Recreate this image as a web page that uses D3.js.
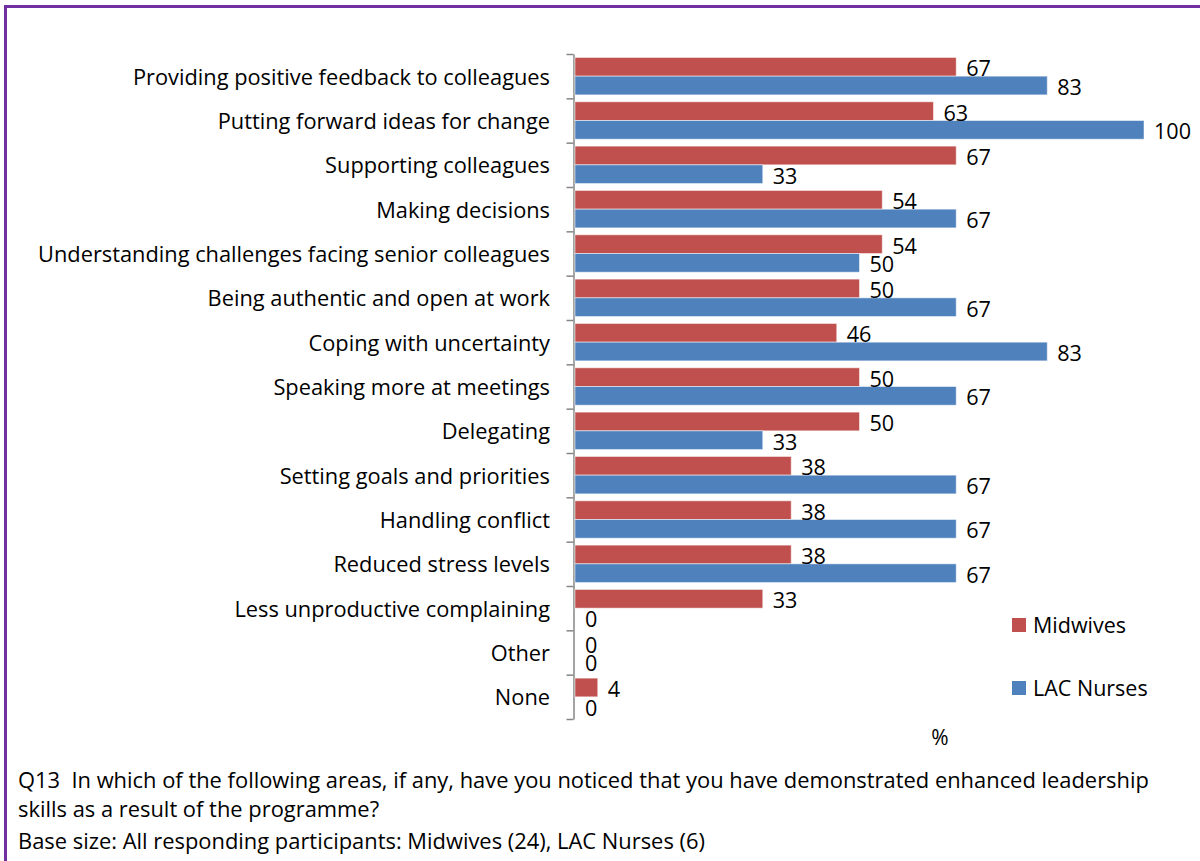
<!DOCTYPE html>
<html>
<head>
<meta charset="utf-8">
<script src="https://cdn.jsdelivr.net/npm/d3@7"></script>
<style>
  body { margin: 0; background: #fff; }
  svg { display: block; }
  text { font-family: "Open Sans", Lato, sans-serif; fill: #000; }
</style>
</head>
<body>
<svg id="chart" width="1200" height="861"></svg>
<script>
// Leadership areas, top to bottom
const categories = [
  "Providing positive feedback to colleagues",
  "Putting forward ideas for change",
  "Supporting colleagues",
  "Making decisions",
  "Understanding challenges facing senior colleagues",
  "Being authentic and open at work",
  "Coping with uncertainty",
  "Speaking more at meetings",
  "Delegating",
  "Setting goals and priorities",
  "Handling conflict",
  "Reduced stress levels",
  "Less unproductive complaining",
  "Other",
  "None"
];

// Percentages per group
const midwives  = [67, 63, 67, 54, 54, 50, 46, 50, 50, 38, 38, 38, 33, 0, 4];
const lacNurses = [83, 100, 33, 67, 50, 67, 83, 67, 33, 67, 67, 67, 0, 0, 0];

const seriesNames  = ["Midwives", "LAC Nurses"];
const seriesColors = ["#C0504D", "#4F81BD"];
const axisUnit = "%";

const captionLines = [
  "Q13  In which of the following areas, if any, have you noticed that you have demonstrated enhanced leadership",
  "skills as a result of the programme?",
  "Base size: All responding participants: Midwives (24), LAC Nurses (6)"
];

const svg = d3.select("#chart");

// Purple frame around the figure (runs off the right and bottom edges)
svg.append("rect")
  .attr("x", 5.5).attr("y", 6.5)
  .attr("width", 1230).attr("height", 900)
  .attr("fill", "none")
  .attr("stroke", "#7030A0")
  .attr("stroke-width", 3);

const plotTop = 54, plotBottom = 719, plotLeft = 575, plotRight = 1144;

const x = d3.scaleLinear().domain([0, 100]).range([plotLeft, plotRight]);
const y0 = d3.scaleBand().domain(categories).range([plotTop, plotBottom]).padding(0);
const y1 = d3.scaleBand().domain(seriesNames).range([0, y0.bandwidth()])
  .paddingInner(0).paddingOuter(0.185);

// Category axis with ticks on band boundaries
const tickScale = d3.scaleLinear().domain([0, categories.length]).range([plotTop, plotBottom]);
const axisG = svg.append("g")
  .attr("transform", `translate(${plotLeft - 1.5},0)`)
  .call(d3.axisLeft(tickScale)
    .tickValues(d3.range(categories.length + 1))
    .tickFormat("")
    .tickSize(7)
    .tickSizeOuter(0));
axisG.selectAll("path, line").attr("stroke", "#868686").attr("stroke-width", 1.5);

// Category labels
svg.append("g").selectAll("text")
  .data(categories)
  .join("text")
  .attr("x", 550)
  .attr("y", d => y0(d) + y0.bandwidth() / 2)
  .attr("text-anchor", "end")
  .attr("dominant-baseline", "central")
  .attr("font-size", 21.8)
  .text(d => d);

// Bars
const rows = categories.map((c, i) => ({
  cat: c,
  values: [
    { key: seriesNames[0], v: midwives[i], color: seriesColors[0] },
    { key: seriesNames[1], v: lacNurses[i], color: seriesColors[1] }
  ]
}));

const groups = svg.append("g").selectAll("g")
  .data(rows)
  .join("g")
  .attr("transform", d => `translate(0,${y0(d.cat)})`);

groups.selectAll("rect")
  .data(d => d.values)
  .join("rect")
  .attr("x", x(0))
  .attr("y", d => y1(d.key))
  .attr("width", d => x(d.v) - x(0))
  .attr("height", y1.bandwidth())
  .attr("fill", d => d.color)
  .attr("stroke", "#fff")
  .attr("stroke-opacity", 0.5)
  .attr("stroke-width", 1);

groups.selectAll("text")
  .data(d => d.values)
  .join("text")
  .attr("x", d => x(d.v) + 10)
  .attr("y", d => y1(d.key) + y1.bandwidth() / 2 + 1)
  .attr("dominant-baseline", "central")
  .attr("font-size", 21.6)
  .text(d => d.v);

// Legend
const legend = svg.append("g").selectAll("g")
  .data(seriesNames)
  .join("g")
  .attr("transform", (d, i) => `translate(1012,${618 + i * 63})`);
legend.append("rect")
  .attr("width", 14).attr("height", 14)
  .attr("fill", (d, i) => seriesColors[i]);
legend.append("text")
  .attr("x", 21).attr("y", 15)
  .attr("font-size", 21.5)
  .text(d => d);

// Unit label
svg.append("text")
  .attr("x", 940).attr("y", 745)
  .attr("text-anchor", "middle")
  .attr("font-size", 21)
  .text(axisUnit);

// Question and base-size note
svg.append("g").selectAll("text")
  .data(captionLines)
  .join("text")
  .attr("x", 18)
  .attr("y", (d, i) => [788, 817, 849][i])
  .attr("font-size", 21.9)
  .style("white-space", "pre")
  .text(d => d);
</script>
</body>
</html>
